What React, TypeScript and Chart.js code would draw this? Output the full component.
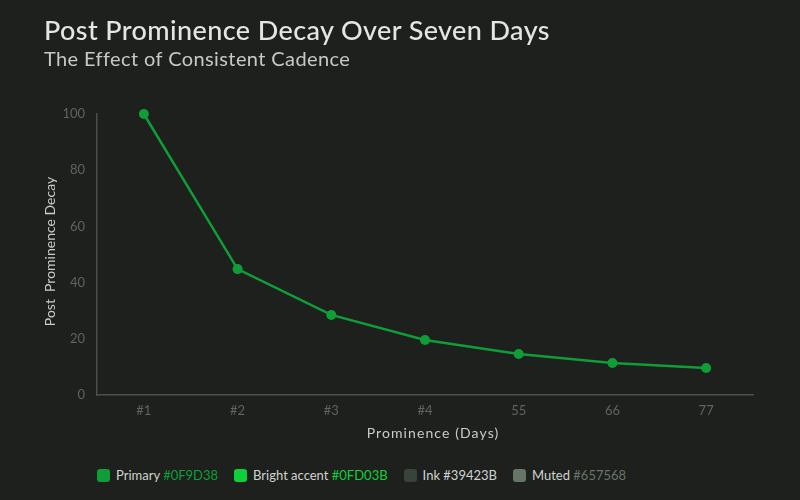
import React, { useEffect, useRef } from "react";
import { Chart, registerables } from "chart.js";

Chart.register(...registerables);

const categories = ["#1", "#2", "#3", "#4", "55", "66", "77"];
const decayValues = [100, 44.8, 28.5, 19.6, 14.6, 11.4, 9.6];
const yTicks = [0, 20, 40, 60, 80, 100];

const TITLE = "Post Prominence Decay Over Seven Days";
const SUBTITLE = "The Effect of Consistent Cadence";
const X_TITLE = "Prominence (Days)";
const Y_TITLE = "Post  Prominence Decay";

const legendItems = [
  { label: "Primary", code: "#0F9D38", swatch: "#0F9D38", codeColor: "#0F9D38" },
  { label: "Bright accent", code: "#0FD03B", swatch: "#0FD03B", codeColor: "#0FD03B" },
  { label: "Ink", code: "#39423B", swatch: "#39423B", codeColor: "#cfd3cf" },
  { label: "Muted", code: "#657568", swatch: "#657568", codeColor: "#657568" },
];

const BG = "#1d201d";
const FONT = "Lato, 'Open Sans', sans-serif";

const axisTitlePlugin = {
  id: "axisTitles",
  afterDraw(chart: any) {
    const { ctx, chartArea } = chart;
    ctx.save();
    ctx.fillStyle = "#c9ccc9";
    ctx.textAlign = "center";
    ctx.textBaseline = "middle";
    ctx.font = `14px ${FONT}`;
    (ctx as any).letterSpacing = "1.1px";
    ctx.fillText(X_TITLE, (chartArea.left + chartArea.right) / 2 + 8, chartArea.bottom + 38);
    ctx.translate(50, (chartArea.top + chartArea.bottom) / 2 - 3);
    ctx.rotate(-Math.PI / 2);
    (ctx as any).letterSpacing = "0px";
    ctx.font = `14px ${FONT}`;
    ctx.fillText(Y_TITLE, 0, 0);
    ctx.restore();
  },
};

export default function App() {
  const canvasRef = useRef<HTMLCanvasElement | null>(null);

  useEffect(() => {
    document.body.style.margin = "0";
    const ctx = canvasRef.current!.getContext("2d")!;
    const chart = new Chart(ctx, {
      type: "line",
      data: {
        labels: categories,
        datasets: [
          {
            label: "Post Prominence Decay",
            data: decayValues,
            borderColor: "#0F9D38",
            backgroundColor: "#0F9D38",
            borderWidth: 2.5,
            pointRadius: 5,
            pointHoverRadius: 5,
            pointBackgroundColor: "#0F9D38",
            pointBorderWidth: 0,
            tension: 0,
            clip: false,
          } as any,
        ],
      },
      plugins: [axisTitlePlugin],
      options: {
        animation: false,
        responsive: false,
        maintainAspectRatio: false,
        layout: { padding: { left: 0, right: 47, top: 114, bottom: 0 } },
        plugins: {
          legend: { display: false },
          tooltip: { enabled: false },
          title: { display: false },
        },
        scales: {
          x: {
            offset: true,
            afterFit: (s: any) => {
              s.height = 55;
            },
            grid: { display: false, drawTicks: false },
            border: { display: true, color: "#4a4f4b", width: 1.5 },
            ticks: {
              color: "#5e645f",
              font: { family: FONT, size: 13 },
              padding: 8,
            },
          },
          y: {
            min: 0,
            max: 100,
            afterFit: (s: any) => {
              s.width = 97;
            },
            afterBuildTicks: (axis: any) => {
              axis.ticks = yTicks.map((v) => ({ value: v }));
            },
            grid: { display: false, drawTicks: false },
            border: { display: true, color: "#4a4f4b", width: 1.5 },
            ticks: {
              color: "#5e645f",
              font: { family: FONT, size: 13 },
              padding: 12,
            },
          },
        },
      },
    });
    return () => chart.destroy();
  }, []);

  return (
    <div
      style={{
        position: "fixed",
        left: 0,
        top: 0,
        width: 800,
        height: 500,
        background: BG,
        fontFamily: FONT,
        overflow: "hidden",
      }}
    >
      <canvas
        ref={canvasRef}
        width={800}
        height={450}
        style={{ position: "absolute", left: 0, top: 0, width: 800, height: 450 }}
      />
      <div
        style={{
          position: "absolute",
          left: 44,
          top: 14,
          fontSize: 27,
          letterSpacing: 0.4,
          color: "#e3e6e3",
          fontWeight: 500,
          lineHeight: "32px",
          whiteSpace: "nowrap",
        }}
      >
        {TITLE}
      </div>
      <div
        style={{
          position: "absolute",
          left: 44,
          top: 45,
          fontSize: 20,
          letterSpacing: 0.4,
          color: "#c6cac6",
          lineHeight: "26px",
          whiteSpace: "nowrap",
        }}
      >
        {SUBTITLE}
      </div>
      <div
        style={{
          position: "absolute",
          left: 97,
          top: 467,
          display: "flex",
          alignItems: "center",
          fontSize: 13,
          whiteSpace: "nowrap",
        }}
      >
        {legendItems.map((it) => (
          <div key={it.label} style={{ display: "flex", alignItems: "center", marginRight: 16 }}>
            <span
              style={{
                display: "inline-block",
                width: 13,
                height: 13,
                borderRadius: 3,
                background: it.swatch,
                marginRight: 6,
              }}
            />
            <span style={{ color: "#cfd3cf" }}>{it.label}&nbsp;</span>
            <span style={{ color: it.codeColor }}>{it.code}</span>
          </div>
        ))}
      </div>
    </div>
  );
}
